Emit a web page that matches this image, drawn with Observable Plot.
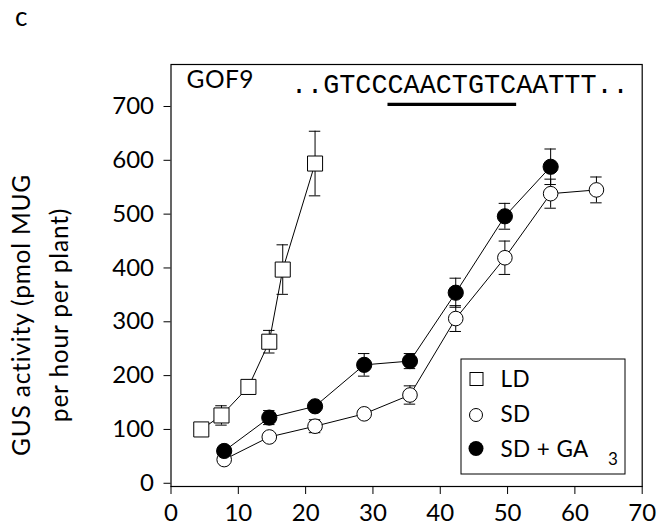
<!DOCTYPE html>
<html>
<head>
<meta charset="utf-8">
<script src="https://cdn.jsdelivr.net/npm/d3@7"></script>
<script src="https://cdn.jsdelivr.net/npm/@observablehq/plot@0.6"></script>
<style>
  body { margin: 0; background: white; }
  #wrap { position: relative; width: 662px; height: 527px; font-family: Lato, "DejaVu Sans", sans-serif; }
  #ov { position: absolute; left: 0; top: 0; pointer-events: none; }
  #ov text { font-family: Lato, "DejaVu Sans", sans-serif; fill: black; }
</style>
</head>
<body>
<div id="wrap">
  <div id="chart"></div>
  <svg id="ov" width="662" height="527">
    <text x="15" y="26" font-size="26">c</text>
    <g transform="translate(43,315) rotate(-90)">
      <text x="0" y="-13" text-anchor="middle" font-size="24.5" letter-spacing="0.8">GUS activity (pmol MUG</text>
      <text x="0" y="25" text-anchor="middle" font-size="24.5" letter-spacing="0.8">per hour per plant)</text>
    </g>
    <text x="186.5" y="88.3" font-size="24.5" letter-spacing="0.5">GOF9</text>
    <text id="seq" x="291" y="93.3" font-size="26.8" style="font-family:'Liberation Mono', monospace">..GTCCCAACTGTCAATTT..</text>
    <line id="uline" stroke="black" stroke-width="3.2"></line>
    <rect x="461" y="359" width="164" height="115" fill="white" stroke="black" stroke-width="1"></rect>
    <rect x="470" y="372.5" width="13" height="13" fill="white" stroke="black" stroke-width="1"></rect>
    <circle cx="476" cy="415" r="6.5" fill="white" stroke="black" stroke-width="1"></circle>
    <circle cx="476" cy="448.5" r="7.5" fill="black"></circle>
    <text x="500.5" y="386.7" font-size="22.5" letter-spacing="0.4">LD</text>
    <text x="500.5" y="421.5" font-size="22.5" letter-spacing="0.4">SD</text>
    <text x="500.5" y="456.5" font-size="22.5" letter-spacing="0.4">SD + GA</text>
    <text x="608" y="465" font-size="17">3</text>
  </svg>
</div>
<script>
// Long day (LD)
const ldDays = [4.5, 7.5, 11.5, 14.6, 16.6, 21.4];
const ldGus  = [100, 126, 179, 263, 397, 594];
const ldErr  = [0, 18, 0, 21, 46, 60];
// Short day (SD)
const sdDays = [7.9, 14.6, 21.4, 28.7, 35.5, 42.3, 49.6, 56.4, 63.2];
const sdGus  = [44, 86, 106, 129, 164, 306, 419, 538, 545];
const sdErr  = [0, 0, 12, 0, 17, 24, 31, 27, 24];
// Short day + GA3
const gaDays = [7.9, 14.6, 21.4, 28.7, 35.5, 42.3, 49.6, 56.4];
const gaGus  = [60, 122, 143, 220, 227, 354, 496, 588];
const gaErr  = [0, 13, 0, 21, 14, 27, 24, 33];

const xTicks = [0, 10, 20, 30, 40, 50, 60, 70];
const yTicks = [0, 100, 200, 300, 400, 500, 600, 700];

const rows = (xs, ys, es) => xs.map((x, i) => ({x, y: ys[i], e: es[i]}));
const ld = rows(ldDays, ldGus, ldErr);
const sd = rows(sdDays, sdGus, sdErr);
const ga = rows(gaDays, gaGus, gaErr);
const errs = [...ld, ...sd, ...ga].filter(d => d.e > 0);
const cap = 0.85;

const chart = Plot.plot({
  width: 662,
  height: 527,
  marginLeft: 170.5,
  marginRight: 20.3,
  marginTop: 64,
  marginBottom: 41,
  style: {fontFamily: "Lato, 'DejaVu Sans', sans-serif", fontSize: "24px", color: "black", background: "transparent"},
  x: {domain: [0, 70], ticks: xTicks, tickSize: 8, tickPadding: 9, label: null},
  y: {domain: [-6, 778], ticks: yTicks, tickSize: 7, tickPadding: 10, label: null},
  marks: [
    Plot.frame({stroke: "black", strokeWidth: 1.2}),
    Plot.line(ld, {x: "x", y: "y", stroke: "black", strokeWidth: 1}),
    Plot.line(sd, {x: "x", y: "y", stroke: "black", strokeWidth: 1}),
    Plot.line(ga, {x: "x", y: "y", stroke: "black", strokeWidth: 1}),
    Plot.ruleX(errs, {x: "x", y1: d => d.y - d.e, y2: d => d.y + d.e, stroke: "black", strokeWidth: 1}),
    Plot.ruleY(errs, {y: d => d.y + d.e, x1: d => d.x - cap, x2: d => d.x + cap, stroke: "black", strokeWidth: 1}),
    Plot.ruleY(errs, {y: d => d.y - d.e, x1: d => d.x - cap, x2: d => d.x + cap, stroke: "black", strokeWidth: 1}),
    Plot.dot(ld, {x: "x", y: "y", symbol: "square", r: 8.5, fill: "white", stroke: "black", strokeWidth: 1}),
    Plot.dot(sd, {x: "x", y: "y", symbol: "circle", r: 7.3, fill: "white", stroke: "black", strokeWidth: 1}),
    Plot.dot(ga, {x: "x", y: "y", symbol: "circle", r: 7.6, fill: "black", stroke: "black", strokeWidth: 1})
  ]
});
document.getElementById("chart").appendChild(chart);

// underline of the motif "CAACTGTC" (characters 6..13) measured from the text itself
const seq = document.getElementById("seq");
const x1 = seq.getStartPositionOfChar(6).x;
const x2 = seq.getEndPositionOfChar(13).x;
const ul = document.getElementById("uline");
ul.setAttribute("x1", x1);
ul.setAttribute("x2", x2);
ul.setAttribute("y1", 104.3);
ul.setAttribute("y2", 104.3);
</script>
</body>
</html>
